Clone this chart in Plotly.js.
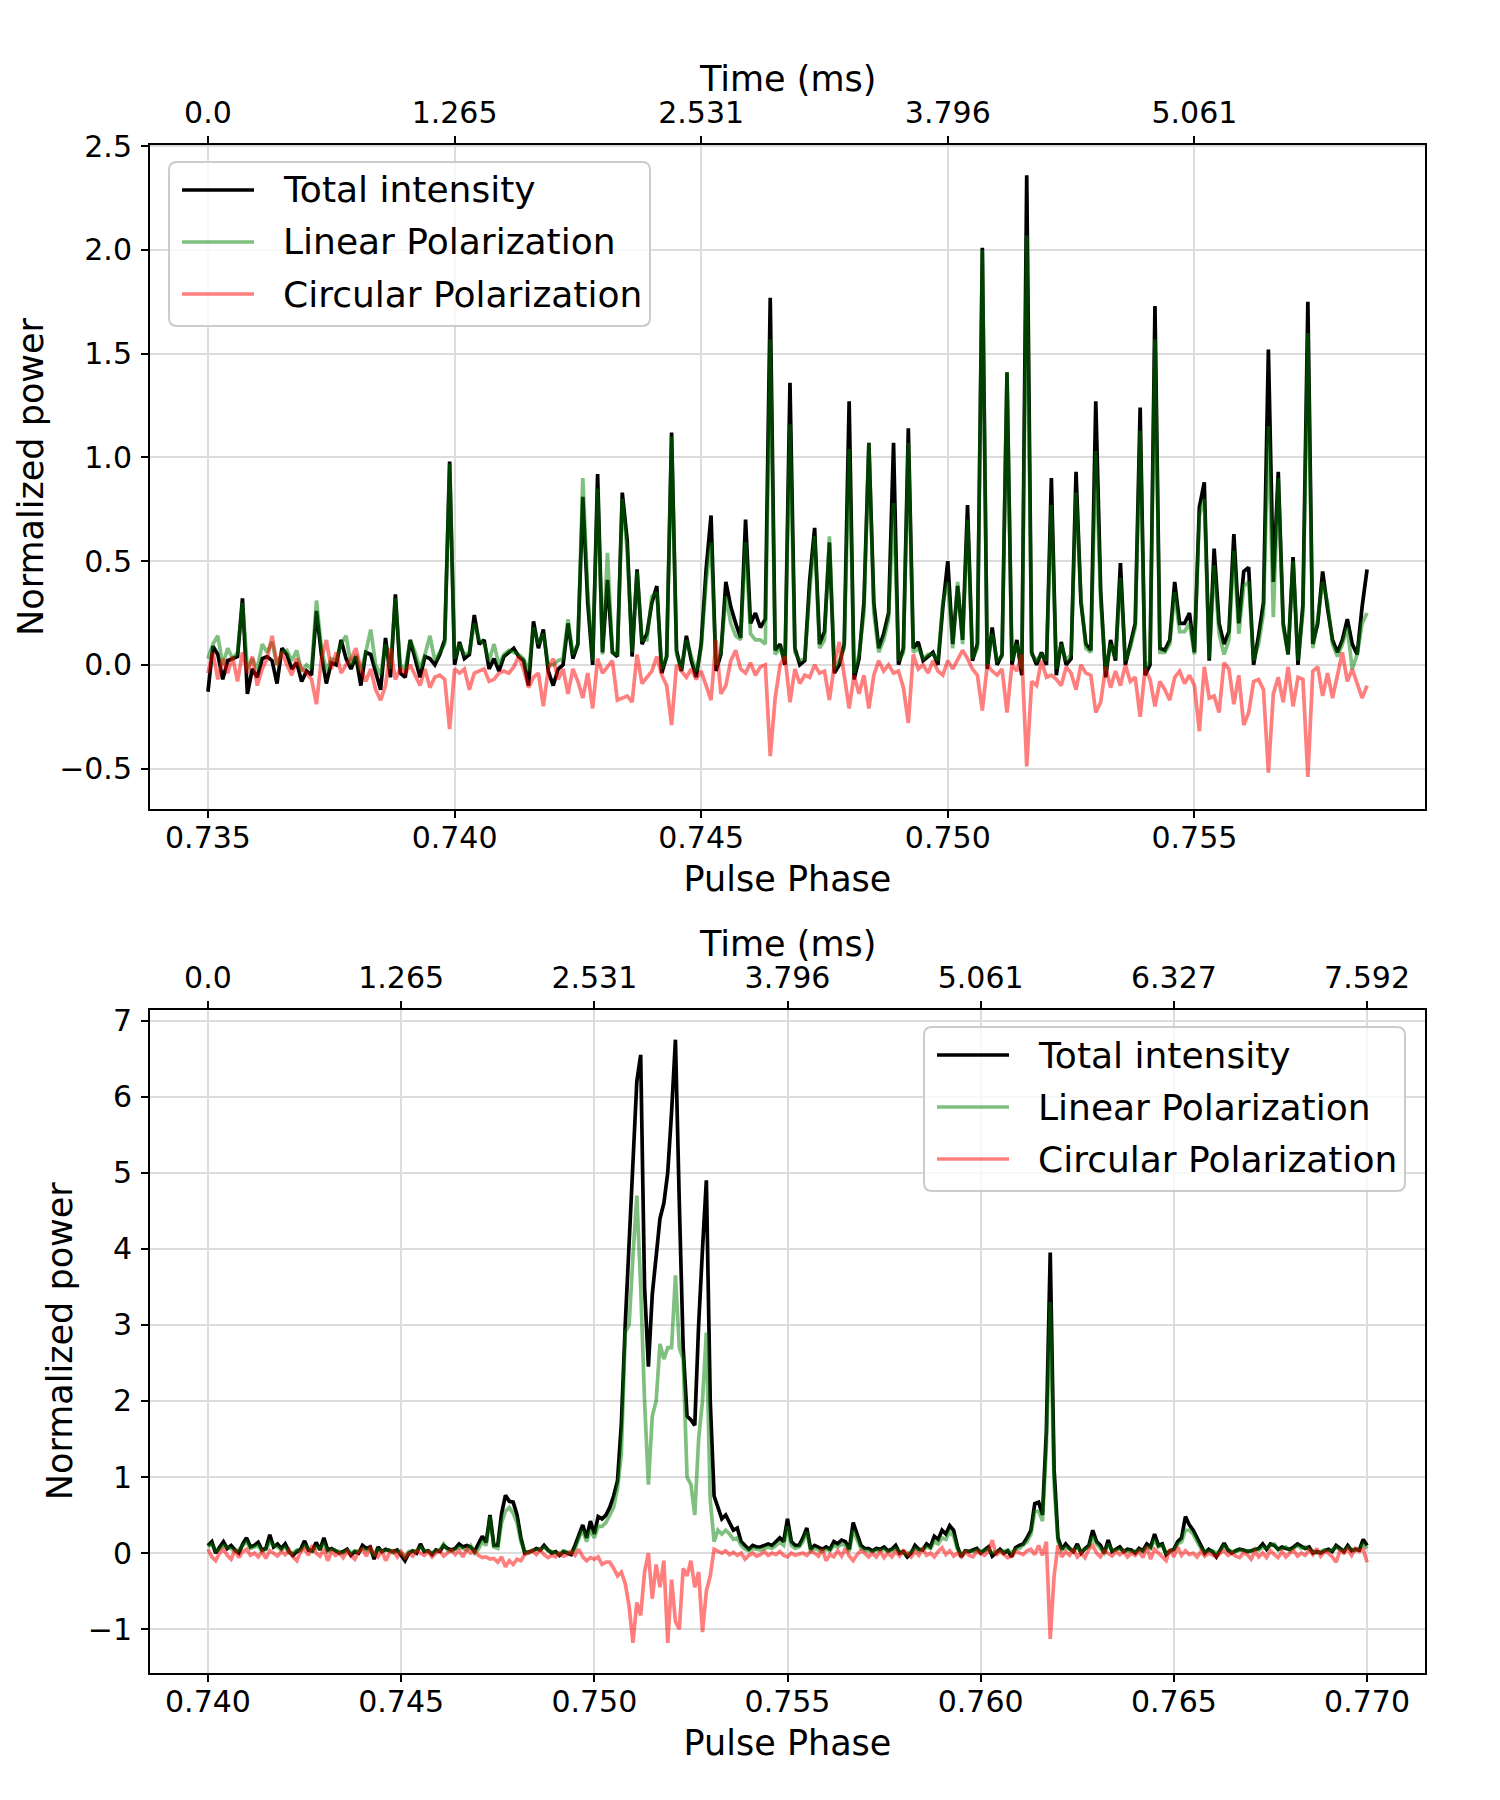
<!DOCTYPE html>
<html><head><meta charset="utf-8">
<script src="https://cdn.plot.ly/plotly-3.0.1.min.js"></script>
<style>body{margin:0;background:#fff}#chart{width:1500px;height:1800px}</style>
</head><body><div id="chart"></div>
<script>
// ---------- DATA ----------
const seriesNames = ['Total intensity', 'Linear Polarization', 'Circular Polarization'];

// Top panel: pulse phase grid start/step, values per sample
const topPhaseStart = 0.735, topPhaseStep = 0.0001;
const topTotal = [
-0.13,0.09,0.05,-0.07,0.02,0.03,0.04,0.32,-0.14,-0.02,
-0.06,0.03,0.04,0.02,-0.09,0.08,0.05,-0.02,0.01,-0.08,
-0.03,-0.05,0.26,0.05,-0.09,0.01,0.0,0.12,0.03,-0.02,
0.04,-0.1,0.06,0.05,-0.04,-0.12,0.13,-0.06,0.34,-0.04,
-0.06,0.12,0.03,-0.06,0.04,0.03,0.0,0.05,0.12,0.98,
0.0,0.11,0.03,0.05,0.24,0.1,0.12,-0.02,0.03,-0.03,
0.04,0.06,0.08,0.04,0.02,-0.1,0.21,0.08,0.17,-0.03,
-0.1,-0.02,0.0,0.2,0.03,0.1,0.81,0.3,0.0,0.92,
0.06,0.41,0.06,0.04,0.83,0.6,0.04,0.46,0.1,0.15,
0.3,0.38,-0.04,0.04,1.12,0.07,-0.03,0.14,0.02,-0.06,
0.1,0.46,0.72,-0.03,0.05,0.4,0.28,0.2,0.13,0.7,
0.2,0.25,0.18,0.22,1.77,0.07,0.1,0.0,1.36,0.08,
0.0,0.02,0.41,0.66,0.1,0.16,0.59,-0.04,0.0,0.1,
1.27,-0.07,0.03,0.3,1.07,0.3,0.08,0.15,0.25,1.07,
0.0,0.08,1.14,0.08,0.11,0.02,0.04,0.06,0.0,0.28,
0.5,0.1,0.38,0.12,0.77,0.02,0.1,2.01,-0.02,0.18,
0.0,0.05,1.41,0.0,0.12,-0.05,2.36,0.06,0.0,0.06,
0.0,0.9,-0.05,0.11,0.0,0.03,0.93,0.3,0.1,0.07,
1.27,0.35,-0.06,0.12,0.02,0.49,0.0,0.1,0.2,1.24,
-0.05,0.0,1.73,0.08,0.07,0.12,0.4,0.2,0.2,0.25,
0.06,0.76,0.88,0.02,0.56,0.2,0.1,0.16,0.63,0.2,
0.45,0.47,0.0,0.14,0.3,1.52,0.4,0.93,0.2,0.05,
0.52,0.0,0.29,1.75,0.1,0.2,0.45,0.27,0.12,0.06,
0.12,0.22,0.1,0.05,0.28,0.46];
const topLinear = [
0.03,0.1,0.14,0.0,0.08,0.03,0.06,0.3,-0.02,0.03,
-0.02,0.1,0.06,0.11,0.0,0.06,0.07,0.02,0.07,-0.03,
0.0,-0.02,0.31,0.08,-0.03,0.03,0.02,0.1,0.14,0.0,
0.05,-0.03,0.06,0.17,0.0,-0.05,0.1,-0.02,0.32,0.0,
-0.02,0.12,0.06,-0.02,0.05,0.14,0.02,0.06,0.1,0.97,
0.03,0.1,0.05,0.06,0.2,0.12,0.1,0.02,0.1,0.0,
0.05,0.07,0.06,0.05,0.03,-0.03,0.18,0.1,0.15,0.0,
0.0,0.02,0.03,0.22,0.05,0.1,0.9,0.35,0.02,0.85,
0.05,0.54,0.06,0.05,0.8,0.55,0.06,0.45,0.12,0.12,
0.33,0.35,-0.02,0.04,1.1,0.05,-0.02,0.12,0.04,-0.03,
0.08,0.4,0.59,0.0,0.06,0.33,0.2,0.14,0.12,0.59,
0.15,0.12,0.12,0.1,1.57,0.05,0.08,0.02,1.16,0.06,
0.02,0.03,0.35,0.62,0.08,0.12,0.62,-0.02,0.02,0.08,
1.04,-0.04,0.05,0.25,1.07,0.25,0.06,0.12,0.22,0.78,
0.02,0.06,1.07,0.06,0.08,0.03,0.05,0.05,0.02,0.3,
0.4,0.08,0.4,0.1,0.7,0.03,0.08,2.0,0.0,0.15,
0.02,0.04,1.41,0.02,0.1,-0.02,2.07,0.05,0.02,0.05,
0.02,0.77,-0.02,0.1,0.02,0.05,0.83,0.32,0.08,0.06,
1.03,0.3,-0.03,0.1,0.03,0.42,0.02,0.08,0.18,1.13,
-0.02,0.02,1.57,0.06,0.06,0.1,0.35,0.16,0.16,0.2,
0.05,0.72,0.8,0.03,0.48,0.15,0.05,0.12,0.55,0.15,
0.38,0.4,0.02,0.1,0.25,1.15,0.23,0.9,0.18,0.05,
0.5,0.02,0.25,1.6,0.08,0.22,0.4,0.3,0.1,0.04,
0.1,0.18,-0.02,0.05,0.2,0.25];
const topCircular = [
-0.04,0.06,-0.07,0.03,-0.04,0.04,-0.08,0.06,-0.04,0.04,
-0.1,-0.02,0.03,0.14,0.0,0.06,0.0,-0.05,0.03,-0.02,
-0.04,-0.07,-0.19,0.03,0.12,-0.02,0.06,-0.04,0.0,0.03,
0.08,-0.02,-0.08,-0.02,-0.12,-0.17,-0.1,0.08,-0.07,-0.02,
-0.04,0.0,-0.05,-0.1,-0.02,-0.11,-0.06,-0.05,-0.07,-0.31,
-0.02,-0.04,-0.02,-0.12,-0.04,-0.03,-0.02,-0.08,-0.07,-0.04,
-0.03,-0.04,-0.01,0.04,-0.02,-0.11,-0.06,-0.04,-0.2,-0.02,
0.03,-0.07,-0.02,-0.14,-0.02,-0.08,-0.16,-0.04,-0.21,0.03,
-0.04,-0.01,0.02,-0.17,-0.16,-0.15,-0.18,0.05,-0.09,-0.06,
-0.03,0.04,-0.05,-0.1,-0.29,0.0,-0.03,-0.06,-0.02,-0.07,
-0.03,-0.1,-0.17,0.12,-0.14,-0.1,0.02,0.07,-0.02,-0.04,
0.01,-0.05,-0.01,0.0,-0.44,-0.16,0.0,0.04,-0.18,-0.02,
-0.09,-0.05,-0.06,0.0,-0.04,-0.03,-0.17,0.0,0.11,-0.05,
-0.21,-0.05,-0.14,-0.05,-0.21,-0.05,0.02,-0.03,0.0,-0.04,
-0.03,-0.11,-0.28,0.05,-0.02,0.0,-0.04,0.02,-0.03,-0.05,
0.02,-0.02,0.03,0.07,0.03,-0.02,-0.05,-0.22,0.0,-0.03,
-0.05,-0.02,-0.23,0.0,-0.03,0.05,-0.49,-0.08,-0.1,0.02,
-0.06,-0.05,-0.07,-0.1,-0.01,-0.04,-0.12,0.0,-0.04,-0.05,
-0.23,-0.18,-0.01,-0.11,-0.03,-0.1,0.0,-0.08,-0.06,-0.25,
-0.02,-0.07,-0.2,-0.08,-0.12,-0.17,-0.06,-0.03,-0.09,-0.05,
-0.1,-0.32,-0.01,-0.16,-0.15,-0.23,0.01,-0.02,-0.19,-0.05,
-0.29,-0.23,-0.08,-0.07,-0.12,-0.52,-0.14,-0.06,-0.18,-0.01,
-0.2,-0.06,-0.07,-0.54,-0.03,-0.01,-0.15,-0.04,-0.16,-0.05,
0.06,-0.08,-0.02,-0.09,-0.16,-0.1];

// Bottom panel
const botPhaseStart = 0.740, botPhaseStep = 0.0001;
const botTotal = [
0.1,0.15,0.0,0.08,0.15,0.06,0.1,0.04,0.0,0.12,
0.2,0.08,0.1,0.14,0.04,0.06,0.24,0.08,0.12,0.06,
0.12,0.02,-0.03,0.02,0.05,0.16,0.04,0.03,0.14,0.04,
0.2,0.04,0.06,0.03,0.0,0.02,0.05,-0.03,0.02,0.0,
0.1,0.06,0.08,-0.08,0.08,0.02,0.05,0.03,0.02,0.04,
-0.03,-0.1,0.0,0.03,0.0,0.12,0.02,0.03,-0.02,0.04,
0.02,0.1,0.06,0.04,0.06,0.12,0.08,0.1,0.08,0.02,
0.12,0.22,0.14,0.5,0.1,0.1,0.52,0.76,0.68,0.67,
0.5,0.2,0.0,0.01,0.03,0.06,0.04,0.1,0.04,0.0,
0.02,-0.03,0.02,0.0,-0.02,0.1,0.24,0.37,0.2,0.42,
0.25,0.48,0.45,0.5,0.6,0.75,0.95,1.7,3.0,4.05,
5.2,6.2,6.55,3.5,2.45,3.4,3.9,4.4,4.6,5.0,
5.8,6.75,4.6,2.7,1.8,1.75,1.68,3.0,4.0,4.9,
2.0,0.75,0.6,0.45,0.5,0.4,0.3,0.33,0.15,0.1,
0.05,0.1,0.08,0.08,0.1,0.12,0.1,0.15,0.2,0.15,
0.45,0.15,0.1,0.1,0.2,0.33,0.05,0.1,0.07,0.05,
0.08,0.05,0.15,0.12,0.17,0.15,0.05,0.4,0.25,0.1,
0.06,0.06,0.03,0.06,0.05,0.08,0.03,0.05,0.1,0.0,
0.02,-0.05,0.0,0.1,0.05,0.04,0.12,0.08,0.22,0.18,
0.3,0.25,0.36,0.3,0.08,-0.05,0.03,0.02,0.04,0.06,
0.0,0.04,0.08,-0.04,0.01,0.05,0.0,0.03,-0.05,0.07,
0.1,0.12,0.2,0.3,0.65,0.67,0.5,1.6,3.95,1.1,
0.2,0.05,0.12,0.06,0.02,0.12,0.0,0.06,0.1,0.3,
0.15,0.1,0.0,0.17,0.02,0.05,0.08,0.02,0.05,0.04,
0.0,0.06,0.03,0.12,0.08,0.25,0.1,0.12,-0.02,0.03,
0.05,0.15,0.2,0.48,0.37,0.3,0.2,0.1,0.0,0.05,
0.02,-0.05,0.05,0.13,0.04,0.0,0.03,0.05,0.04,0.02,
0.03,0.04,0.06,0.12,0.05,0.12,0.1,0.05,0.08,0.06,
0.05,0.08,0.12,0.09,0.06,0.08,0.0,0.02,0.0,0.03,
0.05,0.02,0.1,0.06,0.02,0.1,0.03,0.05,0.04,0.18,0.1];
const botLinear = [
0.08,0.12,0.03,0.05,0.1,0.08,0.06,0.02,0.04,0.1,
0.15,0.06,0.08,0.1,0.02,0.05,0.15,0.1,0.08,0.04,
0.08,0.0,0.0,0.04,0.03,0.1,0.06,0.02,0.08,0.06,
0.12,0.02,0.05,0.04,0.02,0.0,0.04,0.0,0.03,0.02,
0.06,0.04,0.05,-0.04,0.05,0.03,0.03,0.04,0.0,0.03,
0.0,-0.05,0.02,0.02,0.03,0.08,0.03,0.02,0.0,0.03,
0.04,0.12,0.04,0.02,0.05,0.08,0.06,0.04,0.1,0.0,
0.05,0.15,0.1,0.48,0.08,0.06,0.4,0.55,0.6,0.52,
0.4,0.15,0.02,0.0,0.04,0.04,0.05,0.08,0.03,0.02,
0.0,-0.02,0.03,0.02,0.0,0.05,0.2,0.3,0.15,0.3,
0.2,0.35,0.35,0.4,0.5,0.6,0.85,1.3,2.9,3.0,
3.9,4.7,3.5,2.0,0.9,1.8,2.0,2.75,2.55,2.7,
2.7,3.65,2.7,2.55,1.0,0.9,0.5,1.5,2.0,2.9,
0.7,0.15,0.3,0.25,0.3,0.25,0.18,0.2,0.1,0.05,
0.03,0.06,0.05,0.04,0.06,0.08,0.06,0.1,0.14,0.1,
0.35,0.1,0.06,0.08,0.15,0.28,0.03,0.06,0.04,0.02,
0.05,0.03,0.1,0.08,0.12,0.1,0.02,0.3,0.18,0.06,
0.04,0.03,0.02,0.04,0.03,0.05,0.02,0.03,0.06,0.02,
0.0,-0.02,0.02,0.06,0.03,0.05,0.08,0.06,0.15,0.12,
0.2,0.18,0.28,0.22,0.05,-0.02,0.02,0.03,0.02,0.04,
0.02,0.03,0.05,0.0,0.02,0.03,0.02,0.04,0.0,0.05,
0.06,0.1,0.15,0.25,0.55,0.55,0.42,1.4,3.3,0.9,
0.15,0.04,0.08,0.05,0.03,0.08,0.02,0.05,0.08,0.22,
0.12,0.06,0.0,0.12,0.03,0.04,0.05,0.03,0.03,0.02,
0.02,0.04,0.02,0.08,0.06,0.18,0.08,0.1,0.0,0.02,
0.04,0.12,0.15,0.3,0.3,0.25,0.15,0.06,0.02,0.03,
0.03,0.0,0.03,0.1,0.05,0.02,0.02,0.04,0.03,0.03,
0.02,0.06,0.04,0.08,0.06,0.1,0.12,0.04,0.06,0.08,
0.03,0.06,0.1,0.06,0.08,0.05,0.02,0.0,0.02,0.04,
0.03,0.04,0.08,0.04,0.03,0.08,0.05,0.03,0.06,0.12,0.06];
const botCircular = [
0.05,-0.05,-0.1,0.0,0.05,-0.03,-0.08,0.04,-0.06,0.02,
0.05,-0.03,0.0,-0.05,0.02,-0.07,0.03,0.0,-0.04,0.02,
-0.02,0.04,-0.05,-0.1,0.02,0.06,-0.03,0.1,0.0,-0.04,
0.05,-0.1,0.02,-0.03,0.0,-0.06,0.02,-0.03,-0.08,0.02,
0.05,-0.04,0.07,0.0,-0.05,0.03,-0.1,0.0,0.03,-0.05,
0.02,-0.06,0.0,-0.04,0.03,0.0,-0.03,0.02,-0.05,0.0,
0.03,-0.04,0.0,0.04,-0.02,0.03,-0.05,0.05,0.0,0.03,
-0.03,-0.06,-0.05,-0.08,-0.07,-0.12,-0.05,-0.18,-0.1,-0.15,
-0.08,-0.1,-0.02,0.0,0.03,-0.02,0.04,-0.02,-0.06,-0.03,
-0.05,0.0,-0.04,-0.02,0.02,-0.03,0.05,-0.05,-0.1,-0.06,
-0.08,-0.05,-0.15,-0.12,-0.12,-0.2,-0.3,-0.25,-0.4,-0.7,
-1.18,-0.65,-0.82,-0.25,0.0,-0.6,-0.15,-0.45,-0.1,-1.18,
-0.35,-0.9,-1.0,-0.2,-0.3,-0.1,-0.45,-0.25,-1.04,-0.5,
-0.3,0.05,0.02,0.0,0.03,-0.02,0.01,-0.03,0.0,-0.08,
-0.03,0.0,-0.04,-0.02,0.02,-0.03,0.0,-0.02,0.02,-0.03,
-0.05,0.0,-0.03,-0.02,0.0,-0.03,0.02,0.0,-0.04,0.05,
-0.1,-0.02,-0.05,0.03,-0.04,0.06,-0.04,-0.1,-0.02,0.03,
0.0,-0.05,0.0,-0.05,0.02,-0.06,0.0,-0.05,0.02,-0.04,
0.03,0.0,-0.05,0.02,-0.03,0.05,-0.03,0.0,-0.05,0.02,
0.07,-0.02,0.03,-0.04,0.0,-0.05,0.02,-0.03,-0.05,0.02,
0.0,-0.03,0.02,0.17,-0.03,0.02,-0.02,-0.06,-0.04,0.02,
0.0,-0.02,0.03,0.05,-0.02,0.1,-0.03,0.15,-1.13,-0.3,
0.1,-0.05,0.02,-0.03,0.05,-0.05,0.0,-0.06,0.05,0.1,
0.0,-0.05,0.03,0.0,-0.04,0.02,-0.02,0.02,-0.05,0.0,
-0.03,0.02,-0.06,0.08,-0.08,0.05,0.0,-0.05,-0.1,0.05,
-0.05,0.08,-0.03,0.03,-0.02,0.0,-0.05,0.02,-0.04,0.0,
-0.03,-0.05,0.0,0.03,-0.03,0.0,-0.04,-0.06,0.0,-0.02,
-0.08,0.02,-0.05,0.0,-0.06,0.03,-0.02,-0.06,0.02,-0.05,
0.0,0.03,-0.04,0.0,-0.03,0.04,-0.02,0.06,-0.04,0.02,
0.0,-0.05,-0.12,0.03,0.0,0.05,-0.03,0.06,0.02,0.05,-0.12];

// Tick labels
const topPhaseTicks = [0.735, 0.740, 0.745, 0.750, 0.755];
const topTimeLabels = ['0.0', '1.265', '2.531', '3.796', '5.061'];
const botPhaseTicks = [0.740, 0.745, 0.750, 0.755, 0.760, 0.765, 0.770];
const botTimeLabels = ['0.0', '1.265', '2.531', '3.796', '5.061', '6.327', '7.592'];
const topYTicks = [-0.5, 0, 0.5, 1.0, 1.5, 2.0, 2.5];
const botYTicks = [-1, 0, 1, 2, 3, 4, 5, 6, 7];

// ---------- BUILD ----------
const FONT = 'DejaVu Sans';
const colors = ['black', 'rgba(0,128,0,0.5)', 'rgba(255,0,0,0.5)'];
const LW = 3.7;

function phases(start, step, n) {
  const a = [];
  for (let i = 0; i < n; i++) a.push(+(start + i * step).toFixed(6));
  return a;
}
const topX = phases(topPhaseStart, topPhaseStep, topTotal.length);
const botX = phases(botPhaseStart, botPhaseStep, botTotal.length);

const traces = [];
[[topTotal, topLinear, topCircular, topX, 'x', 'y'], [botTotal, botLinear, botCircular, botX, 'x2', 'y2']].forEach(p => {
  [p[0], p[1], p[2]].forEach((ys, k) => {
    traces.push({type: 'scatter', mode: 'lines', x: p[3], y: ys, xaxis: p[4], yaxis: p[5],
      name: seriesNames[k], showlegend: false, line: {color: colors[k], width: LW}, hoverinfo: 'skip'});
  });
});
// invisible anchors for the time axes
traces.push({type: 'scatter', mode: 'markers', x: [topPhaseStart], y: [0], xaxis: 'x3', yaxis: 'y', marker: {opacity: 0}, showlegend: false, hoverinfo: 'skip'});
traces.push({type: 'scatter', mode: 'markers', x: [botPhaseStart], y: [0], xaxis: 'x4', yaxis: 'y2', marker: {opacity: 0}, showlegend: false, hoverinfo: 'skip'});

const W = 1500, H = 1800, ML = 150, MR = 75, MT = 145, MB = 127;
const PW = W - ML - MR, PH = H - MT - MB;
const topRange = [0.733825, 0.759675];
const botRange = [0.7385, 0.7715];

const tickFont = {family: FONT, size: 30, color: 'black'};
const titleFont = {family: FONT, size: 35, color: 'black'};
const legendFont = {family: FONT, size: 36, color: 'black'};
const axisBase = {showline: true, linecolor: 'black', linewidth: 2, mirror: true,
  ticks: 'outside', ticklen: 7, tickwidth: 2, tickcolor: 'black',
  showgrid: true, gridcolor: '#dcdcdc', gridwidth: 2, zeroline: false, tickfont: tickFont};
const fmtY = v => (v < 0 ? '\u2212' : '') + Math.abs(v).toFixed(1);
const fmtYi = v => (v < 0 ? '\u2212' : '') + Math.abs(v).toFixed(0);

const topDom = [(H - MB - 809) / PH, 1];
const botDom = [0, (H - MB - 1009.5) / PH];

const layout = {
  width: W, height: H, showlegend: false,
  paper_bgcolor: 'white', plot_bgcolor: 'white',
  margin: {l: ML, r: MR, t: MT, b: MB, pad: 0},
  font: {family: FONT, color: 'black'},
  xaxis: Object.assign({}, axisBase, {domain: [0, 1], anchor: 'y', range: topRange, ticklabelstandoff: -6,
    tickvals: topPhaseTicks, ticktext: topPhaseTicks.map(v => v.toFixed(3)),
    title: {text: 'Pulse Phase', font: titleFont, standoff: 12}}),
  yaxis: Object.assign({}, axisBase, {domain: topDom, anchor: 'x', range: [-0.695, 2.506], ticklabelstandoff: 3,
    tickvals: topYTicks, ticktext: topYTicks.map(fmtY),
    title: {text: 'Normalized power', font: titleFont, standoff: 5}}),
  xaxis3: Object.assign({}, axisBase, {overlaying: 'x', anchor: 'y', side: 'top', range: topRange,
    showgrid: false, mirror: false, ticklabelstandoff: 1,
    tickvals: topPhaseTicks, ticktext: topTimeLabels}),
  xaxis2: Object.assign({}, axisBase, {domain: [0, 1], anchor: 'y2', range: botRange, ticklabelstandoff: -6,
    tickvals: botPhaseTicks, ticktext: botPhaseTicks.map(v => v.toFixed(3)),
    title: {text: 'Pulse Phase', font: titleFont, standoff: 12}}),
  yaxis2: Object.assign({}, axisBase, {domain: botDom, anchor: 'x2', range: [-1.577, 7.147], ticklabelstandoff: 3,
    tickvals: botYTicks, ticktext: botYTicks.map(fmtYi),
    title: {text: 'Normalized power', font: titleFont, standoff: 5}}),
  xaxis4: Object.assign({}, axisBase, {overlaying: 'x2', anchor: 'y2', side: 'top', range: botRange,
    showgrid: false, mirror: false, ticklabelstandoff: 1,
    tickvals: botPhaseTicks, ticktext: botTimeLabels}),
  shapes: [], annotations: []
};

// pixel -> paper helpers for decorations
const px = x => (x - ML) / PW;
const py = y => (H - MB - y) / PH;

// top (time) axis titles
[79.5, 943.5].forEach(y => layout.annotations.push({xref: 'paper', yref: 'paper', x: 0.5, y: py(y),
  xanchor: 'center', yanchor: 'middle', showarrow: false, text: 'Time (ms)', font: titleFont}));

function addLegend(left, top) {
  const w = 481, h = 164, r = 8;
  const x0 = px(left), x1 = px(left + w), y1 = py(top), y0 = py(top + h);
  const rx = r / PW, ry = r / PH;
  layout.shapes.push({type: 'path', xref: 'paper', yref: 'paper', layer: 'above',
    path: `M ${x0 + rx},${y1} L ${x1 - rx},${y1} Q ${x1},${y1} ${x1},${y1 - ry} L ${x1},${y0 + ry} Q ${x1},${y0} ${x1 - rx},${y0} L ${x0 + rx},${y0} Q ${x0},${y0} ${x0},${y0 + ry} L ${x0},${y1 - ry} Q ${x0},${y1} ${x0 + rx},${y1} Z`,
    fillcolor: 'rgba(255,255,255,0.8)', line: {color: '#cccccc', width: 2}});
  [28, 80, 132].forEach((dy, k) => {
    layout.shapes.push({type: 'line', xref: 'paper', yref: 'paper', layer: 'above',
      x0: px(left + 13), x1: px(left + 85), y0: py(top + dy), y1: py(top + dy),
      line: {color: colors[k], width: LW}});
    layout.annotations.push({xref: 'paper', yref: 'paper', x: px(left + 112), y: py(top + dy),
      xanchor: 'left', yanchor: 'middle', showarrow: false, text: seriesNames[k], font: legendFont});
  });
}
addLegend(169, 162);
addLegend(924, 1027);

Plotly.newPlot('chart', traces, layout, {staticPlot: true});
</script>
</body></html>
